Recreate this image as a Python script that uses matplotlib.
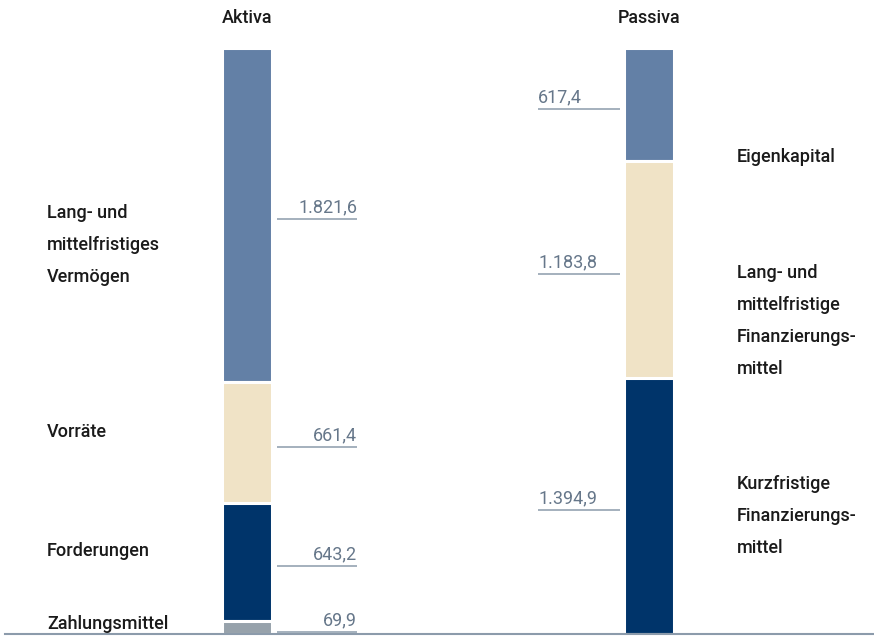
import matplotlib

matplotlib.use("Agg")
import matplotlib.pyplot as plt

# ---------------------------------------------------------------------------
# Data (Mio. EUR)
# ---------------------------------------------------------------------------
aktiva_labels = ["Lang- und\nmittelfristiges\nVermögen", "Vorräte", "Forderungen", "Zahlungsmittel"]
aktiva_values = [1821.6, 661.4, 643.2, 69.9]
aktiva_text = ["1.821,6", "661,4", "643,2", "69,9"]

passiva_labels = ["Eigenkapital", "Lang- und\nmittelfristige\nFinanzierungs-\nmittel",
                  "Kurzfristige\nFinanzierungs-\nmittel"]
passiva_values = [617.4, 1183.8, 1394.9]
passiva_text = ["617,4", "1.183,8", "1.394,9"]

aktiva_colors = ["#6380a6", "#f0e3c6", "#00346a", "#97a2ab"]
passiva_colors = ["#6380a6", "#f0e3c6", "#00346a"]

# ---------------------------------------------------------------------------
# Layout (figure pixels, 874 x 636)
# ---------------------------------------------------------------------------
W, H = 874, 636
TOP, BASE = 48, 634
X_AKT, X_PAS, BAR_W = 247, 649, 46
GAP_PT = 2.2
LINE_C = "#8c9bab"
VAL_C = "#66778a"
TXT_C = "#1a1a1a"
FONT = ["Roboto", "DejaVu Sans"]

# left-label and right-label vertical centres (px from top)
aktiva_label_y = [245, 432, 551, 624]
passiva_label_y = [157, 321, 516]

fig = plt.figure(figsize=(W / 100, H / 100), dpi=100)
ax = fig.add_axes([0, 1 - BASE / H, 1, (BASE - TOP) / H])
total = sum(aktiva_values)
ax.set_xlim(0, W)
ax.set_ylim(0, total)
ax.axis("off")

px = total / (BASE - TOP)  # data units per pixel
gap_px = GAP_PT * 100 / 72


def stack(x, values, colors):
    """Draw stacked segments top-down, return segment midpoints."""
    mids = []
    top = total
    for v, c in zip(values, colors):
        ax.bar(x, v, bottom=top - v, width=BAR_W + gap_px, color=c,
               edgecolor="white", linewidth=GAP_PT, align="center", zorder=2)
        mids.append(top - v / 2)
        top -= v
    return mids


akt_mid = stack(X_AKT, aktiva_values, aktiva_colors)
pas_mid = stack(X_PAS, passiva_values, passiva_colors)

# value labels with underline
for m, t in zip(akt_mid, aktiva_text):
    y = m - 4 * px
    ax.plot([277, 357], [y, y], color=LINE_C, lw=1.1, solid_capstyle="butt")
    ax.text(357, y + 2.5 * px, t, ha="right", va="bottom", fontsize=13,
            color=VAL_C, family=FONT, fontweight="normal")
for m, t in zip(pas_mid, passiva_text):
    y = m - 4 * px
    ax.plot([538, 620], [y, y], color=LINE_C, lw=1.1, solid_capstyle="butt")
    ax.text(538, y + 2.5 * px, t, ha="left", va="bottom", fontsize=13,
            color=VAL_C, family=FONT, fontweight="normal")

# baseline
ax.plot([5, W], [0, 0], color=LINE_C, lw=1.5, zorder=3, clip_on=False)

# category labels
for lab, yc in zip(aktiva_labels, aktiva_label_y):
    fig.text(47 / W, 1 - yc / H, lab, ha="left", va="center", fontsize=13,
             color=TXT_C, family=FONT, fontweight="medium", linespacing=2.02)
for lab, yc in zip(passiva_labels, passiva_label_y):
    fig.text(737 / W, 1 - yc / H, lab, ha="left", va="center", fontsize=13,
             color=TXT_C, family=FONT, fontweight="medium", linespacing=2.02)

# headers
fig.text(X_AKT / W, 1 - 18 / H, "Aktiva", ha="center", va="center", fontsize=13,
         color=TXT_C, family=FONT, fontweight="medium")
fig.text(X_PAS / W, 1 - 18 / H, "Passiva", ha="center", va="center", fontsize=13,
         color=TXT_C, family=FONT, fontweight="medium")

fig.savefig("out.png", dpi=100)
